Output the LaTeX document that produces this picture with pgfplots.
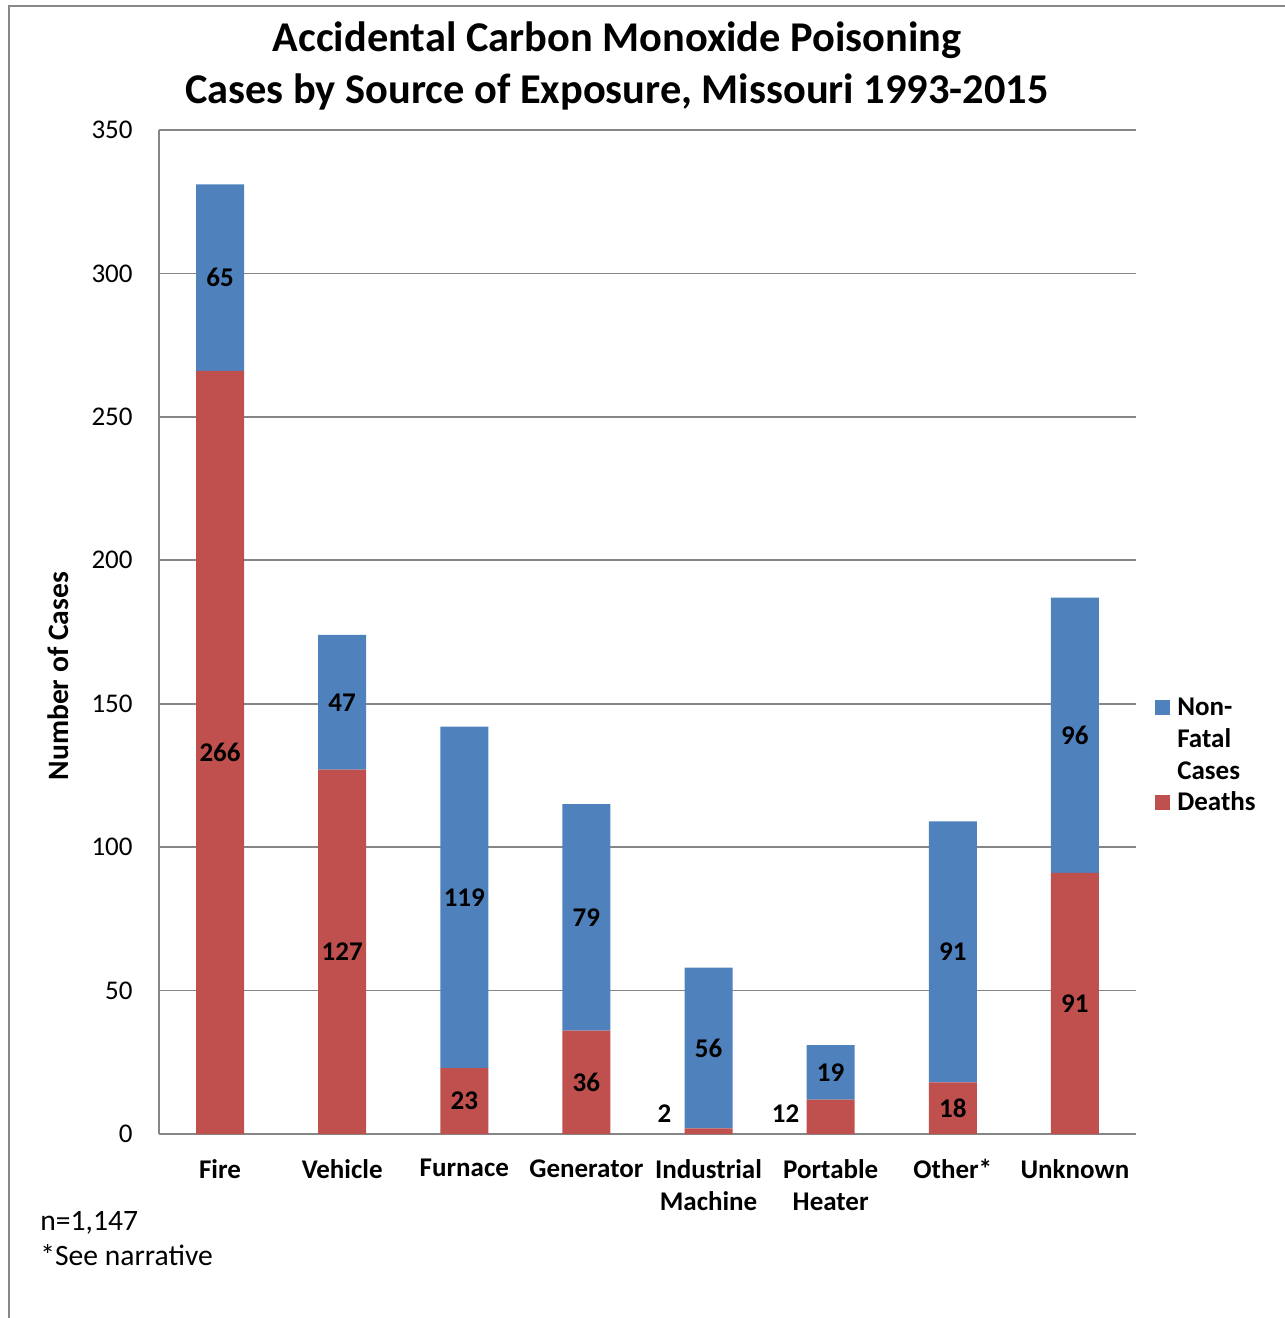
\documentclass[border=0pt]{standalone}
\usepackage{fontspec}
\setmainfont{Carlito}
\usepackage{pgfplots}
\pgfplotsset{compat=1.18}
\usepackage{pgfplotstable}
\definecolor{nfblue}{HTML}{4F81BD}
\definecolor{dred}{HTML}{C0504D}
\definecolor{gridgray}{HTML}{868686}
\definecolor{framegray}{HTML}{888888}

\pgfplotstableread{
x y dx dy
0 266 0 0
1 127 0 0
2 23 0 0
3 36 0 0
4 2 -22 8.5
5 12 -22.5 1.5
6 18 0 0
7 91 0 0
}\deaths

\pgfplotstableread{
x y dx dy
0 65 0 0
1 47 0 0
2 119 0 0
3 79 0 0
4 56 0 0
5 19 0 0
6 91 0 0
7 96 0 0
}\nonfatal

\pgfplotsset{
  seglabels/.style={
    visualization depends on={\thisrow{dx} \as \dx},
    visualization depends on={\thisrow{dy} \as \yoff},
    point meta=explicit,
    nodes near coords={\pgfmathprintnumber{\pgfplotspointmeta}},
    every node near coord/.append style={font=\bfseries\fontsize{13.5}{15}\selectfont, text=black, anchor=center, xshift=\dx pt, yshift=\yoff pt},
  },
}

\begin{document}
\begin{tikzpicture}
\useasboundingbox (-79.5pt,-92pt) rectangle (563pt,567pt);
\draw[framegray, line width=1pt] (-75pt,-100pt) -- (-75pt,564pt) -- (600pt,564pt);
\begin{axis}[
  at={(0,0)}, anchor=south west,
  scale only axis, width=488.5pt, height=502pt,
  ybar stacked, bar width=24pt,
  xmin=-0.5, xmax=7.5, ymin=0, ymax=350,
  ytick={0,50,...,350},
  xtick={0,...,7},
  xticklabels={Fire,Vehicle,Furnace,Generator,Industrial\\Machine,Portable\\Heater,Other*,Unknown},
  axis x line*=bottom, axis y line*=left,
  axis line style={gridgray, line width=1pt, -},
  ymajorgrids, major grid style={gridgray, line width=0.8pt},
  major tick length=0pt,
  /pgf/number format/assume math mode=true,
  yticklabel style={anchor=east, inner sep=0pt, xshift=-13pt, font=\fontsize{13.5}{16}\selectfont},
  xticklabel style={anchor=north, inner sep=0pt, yshift=-12.5pt, align=center, font=\bfseries\fontsize{13.5}{16}\selectfont},
  ylabel={Number of Cases},
  ylabel style={at={(axis description cs:-0.10338,0.456)}, anchor=center, font=\bfseries\fontsize{14.8}{16}\selectfont},
  reverse legend,
  legend cell align=left,
  legend style={at={(rel axis cs:1.0194,0.4347)}, anchor=north west, draw=none, fill=none, inner sep=0pt,
    font=\bfseries\fontsize{13.5}{16}\selectfont, nodes={inner sep=0pt, anchor=base west},
    row sep=36.5pt, column sep=3.5pt},
]
\addplot[fill=dred, draw=none, seglabels, legend image code/.code={\fill[dred] (0pt,0pt) rectangle (7.5pt,7.5pt);}]
  table[x=x, y=y, meta=y] {\deaths};
\addlegendentry{Deaths}
\addplot[fill=nfblue, draw=none, seglabels, legend image code/.code={\fill[nfblue] (0pt,0pt) rectangle (7.5pt,7.5pt);}]
  table[x=x, y=y, meta=y] {\nonfatal};
\addlegendentry{\parbox[t]{45pt}{\raggedright Non-\\Fatal\\Cases}}
\end{axis}
\node[anchor=base, inner sep=0pt, font=\bfseries\fontsize{21.2}{24}\selectfont] at (229pt,541pt) {Accidental Carbon Monoxide Poisoning};
\node[anchor=base, inner sep=0pt, font=\bfseries\fontsize{21.2}{24}\selectfont] at (229pt,515pt) {Cases by Source of Exposure, Missouri 1993-2015};
\node[anchor=base west, inner sep=0pt, font=\fontsize{14.8}{17}\selectfont] at (-59.5pt,-48pt) {n=1,147};
\node[anchor=base west, inner sep=0pt, font=\fontsize{14.8}{17}\selectfont] at (-59.5pt,-65.5pt) {*See narrative};
\end{tikzpicture}
\end{document}
